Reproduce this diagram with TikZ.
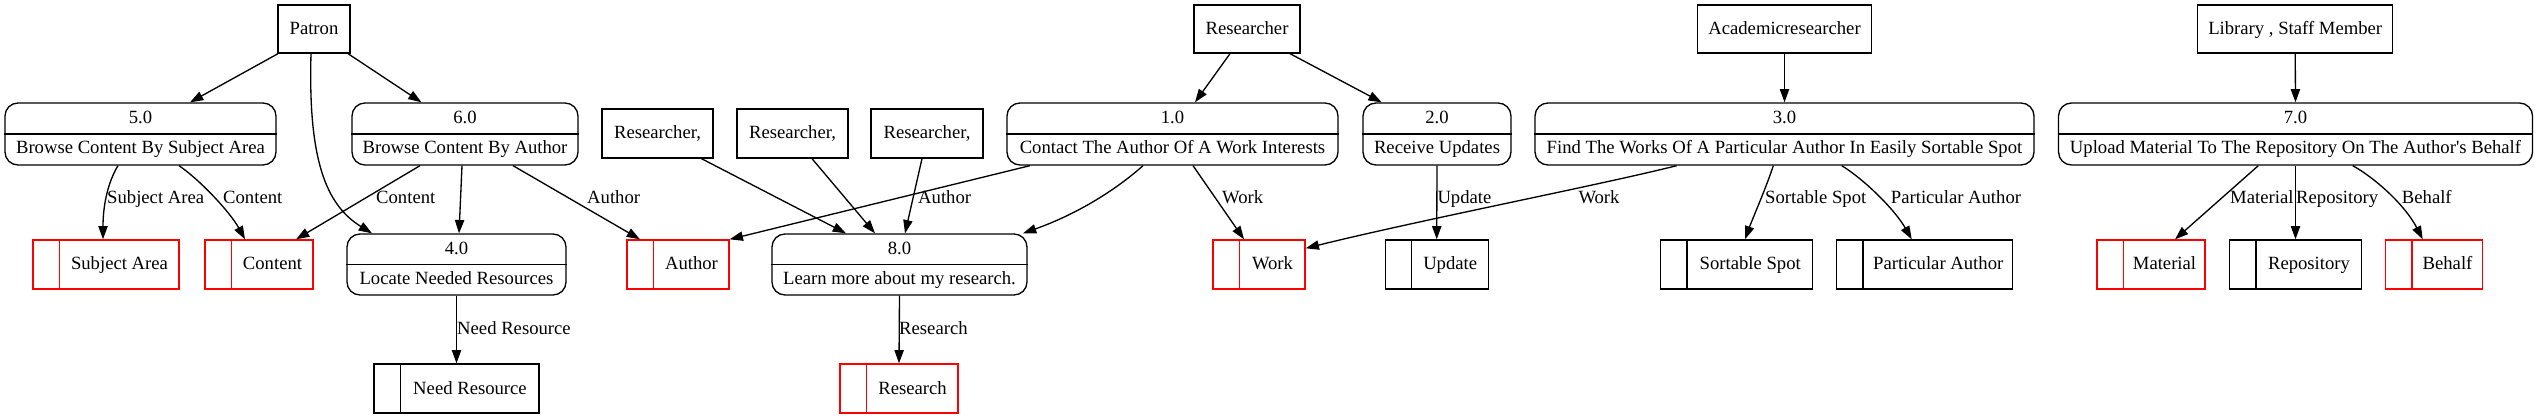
\documentclass[tikz,border=0pt]{standalone}
\usepackage{fontspec}
\setmainfont{Liberation Serif}
\newfontfamily\plainserif{Liberation Serif}
\usetikzlibrary{arrows.meta}
\tikzset{
 ext/.style={draw, line width=1.33pt, minimum height=48pt, inner sep=0pt, text height=13pt, text depth=2pt},
 proc/.style={draw, line width=1.33pt, rounded corners=13pt, inner sep=0pt},
 store/.style={draw, line width=1.33pt, minimum height=49pt, inner sep=0pt},
 arr/.style={line width=1.33pt, -{Triangle[length=13.3pt,width=9.3pt]}},
 lab/.style={anchor=base west, inner sep=0pt},
}
\newcommand\dfdstore[6]{%
 \node[store, draw=#5, minimum width=#4pt] (#1) at (#2,#3) {};
 \draw[#5, line width=1.33pt] ([xshift=27pt]#1.north west) -- ([xshift=27pt]#1.south west);
 \node[inner sep=0pt, text height=13pt, text depth=2pt] (#1-t) at ([xshift=13.5pt]#1.center) {#6};
}
\newcommand\dfdproc[7]{%
 \node[proc, minimum width=#4pt, minimum height=#5pt] (#1) at (#2,#3) {};
 \draw[line width=1.33pt] (#1.west) -- (#1.east);
 \node[anchor=base, inner sep=0pt] (#1-n) at ([yshift=10pt]#1.center) {#6};
 \node[anchor=base, inner sep=0pt] (#1-t) at ([yshift=-20pt]#1.center) {#7};
}
\begin{document}
\begin{tikzpicture}[x=1pt, y=-1pt, font=\fontsize{18.67}{22}\selectfont]
\useasboundingbox (0,0) rectangle (2537,419);
% externals
\node[ext, minimum width=72pt] (patron) at (314,29) {Patron};
\node[ext, minimum width=111pt, minimum height=49pt] (rc1) at (657.5,133.5) {Researcher,};
\node[ext, minimum width=111pt, minimum height=49pt] (rc2) at (792.5,133.5) {Researcher,};
\node[ext, minimum width=112pt, minimum height=49pt] (rc3) at (927,133.5) {Researcher,};
\node[ext, minimum width=106pt] (res) at (1247,29) {Researcher};
\node[ext, minimum width=174pt] (acad) at (1784.5,29) {Academicresearcher};
\node[ext, minimum width=195pt] (lib) at (2295.2,29) {Library , Staff Member};
% processes
\dfdproc{p5}{140.5}{134}{271}{62}{5.0}{Browse Content By Subject Area}
\dfdproc{p6}{465}{134}{226}{62}{6.0}{Browse Content By Author}
\dfdproc{p1}{1172.5}{134}{331}{62}{1.0}{Contact The Author Of A Work Interests}
\dfdproc{p2}{1437}{134}{148}{62}{2.0}{Receive Updates}
\dfdproc{p3}{1784.5}{134}{499}{62}{3.0}{Find The Works Of A Particular Author In Easily Sortable Spot}
\dfdproc{p7}{2295.5}{134}{474}{62}{7.0}{Upload Material To The Repository On The Author{\plainserif '}s Behalf}
\dfdproc{p4}{456.5}{264.5}{219}{61}{4.0}{Locate Needed Resources}
\dfdproc{p8}{899.5}{264.5}{255}{61}{8.0}{Learn more about my research.}
% stores
\dfdstore{sa}{106}{264.5}{146}{red}{Subject Area}
\dfdstore{co}{259}{264.5}{108}{red}{Content}
\dfdstore{au}{678}{264.5}{102}{red}{Author}
\dfdstore{wo}{1259}{264.5}{92}{red}{Work}
\dfdstore{up}{1436.7}{264.5}{103}{black}{Update}
\dfdstore{ss}{1736.7}{264.5}{152}{black}{Sortable Spot}
\dfdstore{pa}{1924.7}{264.5}{176}{black}{Particular Author}
\dfdstore{ma}{2151}{264.5}{108}{red}{Material}
\dfdstore{re}{2295.5}{264.5}{132}{black}{Repository}
\dfdstore{be}{2434}{264.5}{96.6}{red}{Behalf}
\dfdstore{nr}{456.5}{388.5}{165}{black}{Need Resource}
\dfdstore{rs}{899}{388.5}{118}{red}{Research}
% connectors
\draw[arr] ([xshift=-36pt]patron.south) -- ([xshift=49.5pt]p5.north);
\draw[arr] ([xshift=34pt]patron.south) -- ([xshift=-43.5pt]p6.north);
\draw[arr] ([xshift=-3pt]patron.south) .. controls (308,160) and (326,205) .. ([xshift=-84.5pt]p4.north);
\draw[arr] ([xshift=-22.5pt]p5.south) .. controls (108,182) and (103,205) .. ([xshift=-3pt]sa.north);
\draw[arr] ([xshift=38.5pt]p5.south) .. controls (200,180) and (230,212) .. ([xshift=-14pt]co.north);
\draw[arr] ([xshift=-45pt]p6.south) -- ([xshift=37pt]co.north);
\draw[arr] ([xshift=-3pt]p6.south) -- ([xshift=2.5pt]p4.north);
\draw[arr] ([xshift=48pt]p6.south) -- ([xshift=-38pt]au.north);
\draw[arr] (p4.south) -- (nr.north);
\draw[arr] ([xshift=44pt]rc1.south) -- ([xshift=-53.5pt]p8.north);
\draw[arr] ([xshift=19.5pt]rc2.south) -- ([xshift=-24.5pt]p8.north);
\draw[arr] ([xshift=-5pt]rc3.south) -- ([xshift=5.5pt]p8.north);
\draw[arr] (p8.south) -- (rs.north);
\draw[arr] ([xshift=-142.5pt]p1.south) -- (au.north east);
\draw[arr] ([xshift=-29.5pt]p1.south) .. controls (1118,188) and (1080,213) .. ([xshift=123.5pt]p8.north);
\draw[arr] ([xshift=20.5pt]p1.south) -- ([xshift=-15pt]wo.north);
\draw[arr] ([xshift=-17pt]res.south) -- ([xshift=22.5pt]p1.north);
\draw[arr] ([xshift=43pt]res.south) -- ([xshift=-55.3pt]p2.north);
\draw[arr] (p2.south) -- (up.north);
\draw[arr] ([xshift=-107.8pt]p3.south) .. controls (1600,185) and (1420,220) .. ([yshift=16.2pt]wo.east);
\draw[arr] (acad.south) -- (p3.north);
\draw[arr] ([xshift=-11.2pt]p3.south) .. controls (1766,188) and (1752,220) .. ([xshift=8.3pt]ss.north);
\draw[arr] ([xshift=57.2pt]p3.south) .. controls (1865,180) and (1895,210) .. ([xshift=-13pt]pa.north);
\draw[arr] (lib.south) -- (p7.north);
\draw[arr] ([xshift=-37.2pt]p7.south) -- ([xshift=24pt]ma.north);
\draw[arr] (p7.south) -- (re.north);
\draw[arr] ([xshift=57.2pt]p7.south) .. controls (2375,178) and (2405,205) .. ([xshift=-11.3pt]be.north);
% connector labels
\node[lab] (l1) at (107,204) {Subject Area};
\node[lab] (l2) at (223,204) {Content};
\node[lab] (l3) at (376,204) {Content};
\node[lab] (l4) at (587,204) {Author};
\node[lab] (l5) at (457,335) {Need Resource};
\node[lab] (l6) at (918,204) {Author};
\node[lab] (l7) at (899,335) {Research};
\node[lab] (l8) at (1222,204) {Work};
\node[lab] (l9) at (1437.3,204) {Update};
\node[lab] (l10) at (1578.3,204) {Work};
\node[lab] (l11) at (1765,204) {Sortable Spot};
\node[lab] (l12) at (1890.7,204) {Particular Author};
\node[lab] (l13) at (2230,204) {Material};
\node[lab] (l14) at (2296,204) {Repository};
\node[lab] (l15) at (2401.7,204) {Behalf};
\end{tikzpicture}
\end{document}
